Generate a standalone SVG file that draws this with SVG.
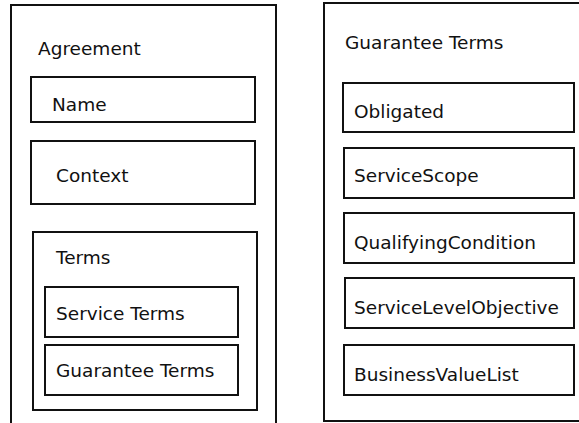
<svg xmlns="http://www.w3.org/2000/svg" width="579" height="423" viewBox="0 0 579 423">
<style>
.b{fill:none;stroke:#111;stroke-width:2}
.t{font-family:"DejaVu Sans",Verdana,sans-serif;font-size:18.5px;fill:#111}
</style>
<rect width="579" height="423" fill="#fff"/>
<g id="agreement">
<path class="b" d="M11,423 V5 H276 V423"/>
<text class="t" x="38" y="55">Agreement</text>
</g>
<g id="name"><rect class="b" x="31" y="77" width="224" height="45"/><text class="t" x="52" y="111">Name</text></g>
<g id="context"><rect class="b" x="31" y="141" width="224" height="63"/><text class="t" x="56" y="182">Context</text></g>
<g id="terms"><rect class="b" x="33" y="232" width="224" height="178"/><text class="t" x="56" y="264">Terms</text></g>
<g id="service-terms"><rect class="b" x="45" y="287" width="193" height="50"/><text class="t" x="56" y="320">Service Terms</text></g>
<g id="guarantee-terms-inner"><rect class="b" x="45" y="345" width="193" height="50"/><text class="t" x="56" y="377">Guarantee Terms</text></g>
<g id="guarantee-terms">
<path class="b" d="M585,3 H324 V421 H585"/>
<text class="t" x="345" y="49">Guarantee Terms</text>
</g>
<g id="obligated"><rect class="b" x="343" y="83" width="231" height="49"/><text class="t" x="354" y="118">Obligated</text></g>
<g id="service-scope"><rect class="b" x="344" y="148" width="230" height="50"/><text class="t" x="354" y="182">ServiceScope</text></g>
<g id="qualifying-condition"><rect class="b" x="344" y="213" width="230" height="50"/><text class="t" x="354" y="249">QualifyingCondition</text></g>
<g id="service-level-objective"><rect class="b" x="345" y="278" width="229" height="50"/><text class="t" x="354" y="314">ServiceLevelObjective</text></g>
<g id="business-value-list"><rect class="b" x="344" y="345" width="230" height="50"/><text class="t" x="354" y="381">BusinessValueList</text></g>
<g id="connectors"/>
</svg>
